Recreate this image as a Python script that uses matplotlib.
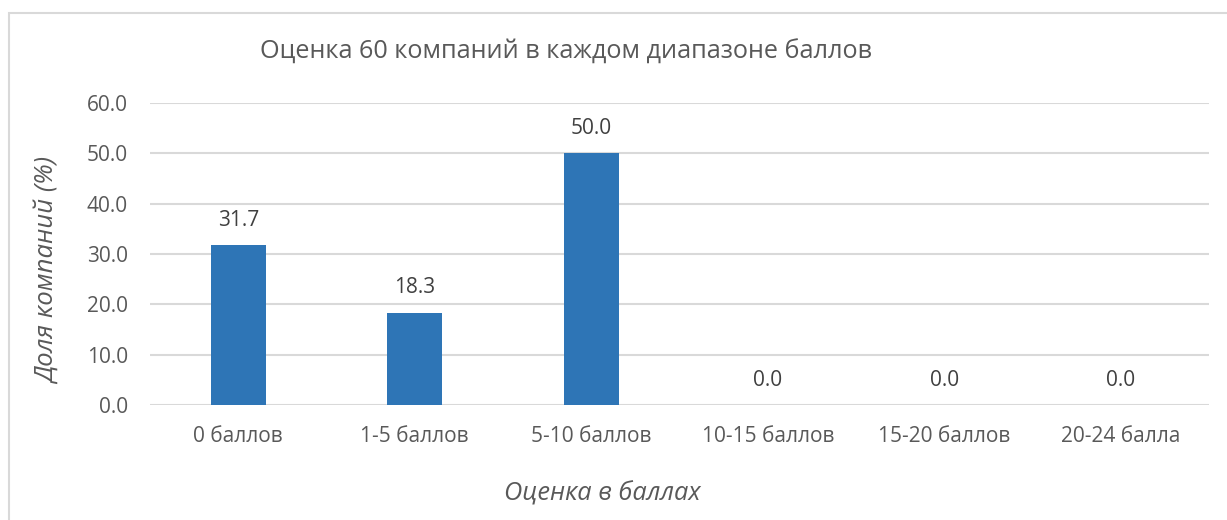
import matplotlib
matplotlib.use("Agg")
import matplotlib.pyplot as plt
from matplotlib.patches import Rectangle

categories = ["0 баллов", "1-5 баллов", "5-10 баллов", "10-15 баллов", "15-20 баллов", "20-24 балла"]
values = [31.7, 18.3, 50.0, 0.0, 0.0, 0.0]
yticks = [0, 10, 20, 30, 40, 50, 60]

plt.rcParams['font.family'] = ['Open Sans', 'DejaVu Sans']
TXT = '#595959'
GRID = '#D9D9D9'
BAR = '#2E75B6'

W, H = 1227, 520
fig = plt.figure(figsize=(W / 100, H / 100), dpi=100)
ax = fig.add_axes([150 / W, 1 - 405 / H, (1209 - 150) / W, (405 - 103) / H])

x = list(range(len(categories)))
ax.bar(x, values, width=0.31, color=BAR, zorder=3)
ax.set_xlim(-0.5, len(categories) - 0.5)
ax.set_ylim(0, 60)
ax.set_yticks(yticks)
ax.set_yticklabels([f"{v:.1f}" for v in yticks])
ax.set_xticks(x)
ax.set_xticklabels(categories)
ax.grid(axis='y', color=GRID, linewidth=1.5, zorder=0)
for s in ax.spines.values():
    s.set_visible(False)
ax.tick_params(axis='both', length=0, colors=TXT, labelsize=15)
ax.tick_params(axis='y', pad=16)
ax.tick_params(axis='x', pad=15)

for xi, v in zip(x, values):
    ax.annotate(f"{v:.1f}", (xi, v), xytext=(0, 18), textcoords='offset points',
                ha='center', va='center', color='#404040', fontsize=15)

fig.text(566 / W, 1 - 52 / H, "Оценка 60 компаний в каждом диапазоне баллов",
         ha='center', va='center', color=TXT, fontsize=18.2)
fig.text(48 / W, 1 - 271 / H, "Доля компаний (%)", rotation=90, ha='center', va='center',
         color=TXT, fontsize=18.5, style='italic')
fig.text(602 / W, 1 - 494 / H, "Оценка в баллах", ha='center', va='center',
         color=TXT, fontsize=18.3, style='italic')

fig.patches.append(Rectangle((9 / W, -0.5), 2, 1.5 - 13 / H, transform=fig.transFigure,
                             fill=False, edgecolor=GRID, linewidth=1.5))

fig.savefig("out.png", dpi=100)
